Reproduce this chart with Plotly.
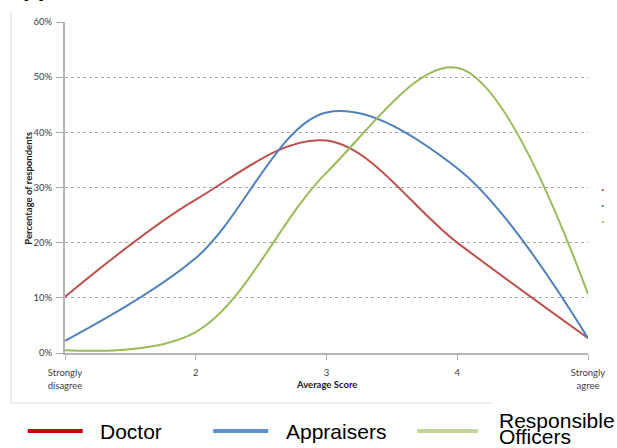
import plotly.graph_objects as go

# Survey responses by average score (percentage of respondents)
scores = [1, 2, 3, 4, 5]
tick_text = ["Strongly<br>disagree", "2", "3", "4", "Strongly<br>agree"]
doctor = [10.2, 27.8, 38.5, 20.0, 2.7]
appraisers = [2.2, 17.2, 43.6, 33.5, 2.7]
responsible_officers = [0.5, 3.8, 32.7, 51.7, 10.7]

series_names = ["Doctor", "Appraisers", "Responsible<br>Officers"]
line_colors = ["#C0504D", "#4F81BD", "#9BBB59"]
legend_colors = ["#CC0000", "#5B8FD6", "#C4D79B"]

W, H = 617, 448
L, R, T, B = 65, 19, 22, 95
pw, ph = W - L - R, H - T - B


def px(x):
    return (x - L) / pw


def py(y):
    return (H - B - y) / ph


fig = go.Figure()
for name, vals, col in zip(series_names, [doctor, appraisers, responsible_officers], line_colors):
    fig.add_trace(go.Scatter(
        x=scores, y=[v / 100 for v in vals], name=name.replace("<br>", " "),
        mode="lines", line=dict(color=col, width=2, shape="spline", smoothing=1.0),
        showlegend=False, hoverinfo="skip",
    ))

axis_grey = "#B4B4B4"
tick_font = dict(family="Lato", size=9.5, color="#404040")
fig.update_layout(
    width=W, height=H,
    margin=dict(l=L, r=R, t=T, b=B),
    paper_bgcolor="white", plot_bgcolor="white",
    font=tick_font,
    xaxis=dict(
        range=[1, 5], tickvals=scores, ticktext=tick_text,
        showgrid=False, zeroline=False,
        showline=True, linecolor=axis_grey, linewidth=2,
        ticks="outside", ticklen=5, tickcolor=axis_grey, tickwidth=1,
        tickfont=tick_font, ticklabelstandoff=5,
    ),
    yaxis=dict(
        range=[0, 0.6], dtick=0.1, tickformat=".0%",
        showgrid=True, gridcolor="#A8A8A8", griddash="dot", gridwidth=1,
        zeroline=False,
        showline=True, linecolor=axis_grey, linewidth=2,
        ticks="outside", ticklen=7, tickcolor="#A8A8A8", tickwidth=1,
        tickfont=tick_font, ticklabelstandoff=2,
    ),
)

annotations = [
    dict(text="<b>Average Score</b>", x=px(331), y=py(384), xref="paper", yref="paper",
         xanchor="center", yanchor="middle",
         showarrow=False, font=dict(family="Lato", size=9.5, color="#202020")),
    dict(text="<b>Percentage of respondents</b>", x=px(27), y=py(188), xref="paper", yref="paper",
         xanchor="center", yanchor="middle",
         showarrow=False, textangle=-90, font=dict(family="Lato", size=9.5, color="#202020")),
    dict(text="<b>pp</b>", x=px(20), y=py(3.5), xref="paper", yref="paper", xanchor="left",
         yanchor="bottom", showarrow=False, font=dict(family="Liberation Sans", size=24, color="black")),
]

shapes = [
    # chart frame
    dict(type="line", xref="paper", yref="paper", x0=px(10), x1=px(10), y0=py(12), y1=py(403),
         line=dict(color="#DADADA", width=1)),
    dict(type="line", xref="paper", yref="paper", x0=px(10), x1=px(500), y0=py(403), y1=py(403),
         line=dict(color="#DADADA", width=1)),
]

# legend below the chart
leg_x = [27, 216, 424]
leg_len = [56, 56, 62]
leg_gap = [16, 16, 19]
for i, (name, col) in enumerate(zip(series_names, legend_colors)):
    x0 = leg_x[i]
    shapes.append(dict(type="line", xref="paper", yref="paper", x0=px(x0), x1=px(x0 + leg_len[i]),
                       y0=py(431), y1=py(431), line=dict(color=col, width=4)))
    parts = name.split("<br>")
    for j, part in enumerate(parts):
        cy = 431 if len(parts) == 1 else 420 + 16 * j
        annotations.append(dict(text=part, x=px(x0 + leg_len[i] + leg_gap[i]), y=py(cy),
                                xref="paper", yref="paper",
                                xanchor="left", yanchor="middle", showarrow=False,
                                font=dict(family="Liberation Sans", size=21, color="black")))

# small series markers at the right edge
for k, col in enumerate(line_colors):
    shapes.append(dict(type="line", xref="paper", yref="paper", x0=px(612), x1=px(614),
                       y0=py(190 + 16 * k), y1=py(190 + 16 * k), line=dict(color=col, width=2)))

fig.update_layout(annotations=annotations, shapes=shapes)
fig.write_html("out.html")
